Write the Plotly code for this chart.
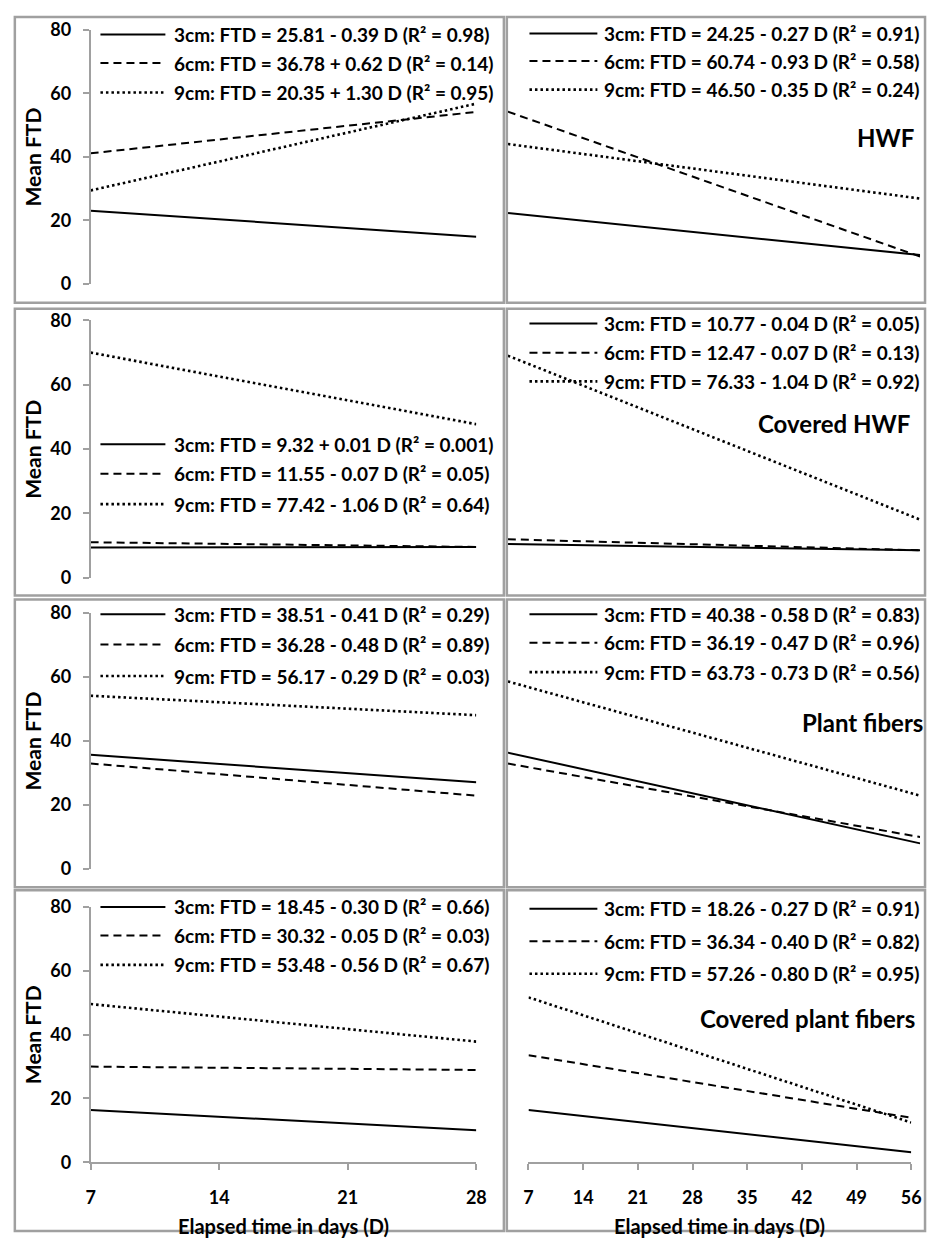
import plotly.graph_objects as go

W, H = 937, 1244

# ---------------- data ----------------
panel_names = ["HWF", "Covered HWF", "Plant fibers", "Covered plant fibers"]
sizes = ["3cm", "6cm", "9cm"]
x_left = [7, 28]
x_right = [7, 56]
left_x_ticks = [7, 14, 21, 28]
right_x_ticks = [7, 14, 21, 28, 35, 42, 49, 56]
y_ticks = [0, 20, 40, 60, 80]

# FTD at first and last day of each regression line (rows = panels, cols = 3/6/9 cm)
left_start = [[23.08, 41.12, 29.45], [9.39, 11.06, 70.00], [35.64, 32.92, 54.14], [16.35, 29.97, 49.56]]
left_end = [[14.89, 54.14, 56.75], [9.60, 9.59, 47.74], [27.03, 22.84, 48.05], [10.05, 28.92, 37.80]]
right_start = [[22.36, 54.23, 44.05], [10.49, 11.98, 69.05], [36.32, 32.90, 58.62], [16.37, 33.54, 51.66]]
right_end = [[9.13, 8.66, 26.90], [8.53, 8.55, 18.09], [7.90, 9.87, 22.85], [3.14, 13.94, 12.46]]

left_labels = [
    ["3cm: FTD = 25.81 - 0.39 D (R² = 0.98)", "6cm: FTD = 36.78 + 0.62 D (R² = 0.14)", "9cm: FTD = 20.35 + 1.30 D (R² = 0.95)"],
    ["3cm: FTD = 9.32 + 0.01 D (R² = 0.001)", "6cm: FTD = 11.55 - 0.07 D (R² = 0.05)", "9cm: FTD = 77.42 - 1.06 D (R² = 0.64)"],
    ["3cm: FTD = 38.51 - 0.41 D (R² = 0.29)", "6cm: FTD = 36.28 - 0.48 D (R² = 0.89)", "9cm: FTD = 56.17 - 0.29 D (R² = 0.03)"],
    ["3cm: FTD = 18.45 - 0.30 D (R² = 0.66)", "6cm: FTD = 30.32 - 0.05 D (R² = 0.03)", "9cm: FTD = 53.48 - 0.56 D (R² = 0.67)"],
]
right_labels = [
    ["3cm: FTD = 24.25 - 0.27 D (R² = 0.91)", "6cm: FTD = 60.74 - 0.93 D (R² = 0.58)", "9cm: FTD = 46.50 - 0.35 D (R² = 0.24)"],
    ["3cm: FTD = 10.77 - 0.04 D (R² = 0.05)", "6cm: FTD = 12.47 - 0.07 D (R² = 0.13)", "9cm: FTD = 76.33 - 1.04 D (R² = 0.92)"],
    ["3cm: FTD = 40.38 - 0.58 D (R² = 0.83)", "6cm: FTD = 36.19 - 0.47 D (R² = 0.96)", "9cm: FTD = 63.73 - 0.73 D (R² = 0.56)"],
    ["3cm: FTD = 18.26 - 0.27 D (R² = 0.91)", "6cm: FTD = 36.34 - 0.40 D (R² = 0.82)", "9cm: FTD = 57.26 - 0.80 D (R² = 0.95)"],
]

# ---------------- styling / layout (pixels) ----------------
FONT = "Lato"
dashes = ["solid", "8px,5px", "2.5px,3px"]
widths = [2, 2, 2.6]
GRAY = "#a0a0a0"
LEG_SIZE = 19

row_plot_y = [(18, 277), (314, 576), (612, 872), (911, 1171)]   # (y at 80, y at 0)
row_box_y = [(5, 296), (302, 594), (598, 891), (894, 1241)]
left_plot_x = (87, 479)
right_plot_x = [(511, 930), (511, 930), (511, 930), (532, 921)]
left_box_x = (10, 507)
right_box_x = (510, 935)

left_leg_y = [(23, 52, 82), (440, 470, 501), (613, 644, 676), (911, 940, 970)]
right_leg_y = [(22, 50, 79), (317, 347, 376), (613, 642, 672), (913, 946, 979)]
panel_label_pos = [(926, 128), (922, 419), (935, 723), (927, 1025)]


def px(x):
    return x / W


def py(y):
    return 1 - y / H


fig = go.Figure()
layout = dict(
    width=W, height=H, margin=dict(l=0, r=0, t=0, b=0),
    paper_bgcolor="white", plot_bgcolor="rgba(0,0,0,0)",
    showlegend=False, font=dict(family=FONT, color="black"),
)
shapes, annotations = [], []

ax = 0
for r in range(4):
    for side in ("L", "R"):
        ax += 1
        xa = "xaxis" if ax == 1 else f"xaxis{ax}"
        ya = "yaxis" if ax == 1 else f"yaxis{ax}"
        xr = "x" if ax == 1 else f"x{ax}"
        yr = "y" if ax == 1 else f"y{ax}"
        x0, x1 = left_plot_x if side == "L" else right_plot_x[r]
        ytop, ybot = row_plot_y[r]
        xvals = x_left if side == "L" else x_right
        starts = left_start if side == "L" else right_start
        ends = left_end if side == "L" else right_end
        for k in range(3):
            fig.add_trace(go.Scatter(
                x=xvals, y=[starts[r][k], ends[r][k]], mode="lines",
                line=dict(color="black", width=widths[k], dash=dashes[k]),
                xaxis=xr, yaxis=yr, name=sizes[k], hoverinfo="skip"))
        bottom = (r == 3)
        layout[xa] = dict(
            domain=[px(x0), px(x1)], range=[xvals[0], xvals[-1]], anchor=yr,
            visible=bottom, showgrid=False, zeroline=False,
            showline=True, linecolor=GRAY, linewidth=1.5,
            ticks="outside", ticklen=6, tickcolor=GRAY, tickwidth=1.5,
            tickvals=left_x_ticks if side == "L" else right_x_ticks,
            tickfont=dict(size=18, family=FONT, weight="bold"),
            ticklabelstandoff=12,
        )
        layout[ya] = dict(
            domain=[py(ybot), py(ytop)], range=[0, 80], anchor=xr,
            visible=(side == "L"), showgrid=False, zeroline=False,
            showline=True, linecolor=GRAY, linewidth=1.5,
            ticks="outside", ticklen=6, tickcolor=GRAY, tickwidth=1.5,
            tickvals=y_ticks,
            tickfont=dict(size=18, family=FONT, weight="bold"),
            ticklabelstandoff=8,
        )

        # legend keys + equations
        labels = left_labels if side == "L" else right_labels
        legy = left_leg_y[r] if side == "L" else right_leg_y[r]
        kx0, kx1, tx = (97, 163, 170) if side == "L" else (533, 602, 607)
        for k in range(3):
            shapes.append(dict(type="line", xref="paper", yref="paper",
                               x0=px(kx0), x1=px(kx1), y0=py(legy[k]), y1=py(legy[k]),
                               line=dict(color="black", width=widths[k], dash=dashes[k])))
            annotations.append(dict(xref="paper", yref="paper", x=px(tx), y=py(legy[k]),
                                    xanchor="left", yanchor="middle", showarrow=False,
                                    text=labels[r][k],
                                    font=dict(size=LEG_SIZE, family=FONT, weight="bold", color="black")))

    # panel boxes
    for bx in (left_box_x, right_box_x):
        shapes.append(dict(type="rect", xref="paper", yref="paper",
                           x0=px(bx[0]), x1=px(bx[1]), y0=py(row_box_y[r][1]), y1=py(row_box_y[r][0]),
                           line=dict(color=GRAY, width=2.5), fillcolor="rgba(0,0,0,0)"))
    # y title
    ytop, ybot = row_plot_y[r]
    annotations.append(dict(xref="paper", yref="paper", x=px(28), y=py((ytop + ybot) / 2),
                            xanchor="center", yanchor="middle", showarrow=False, textangle=-90,
                            text="Mean FTD", font=dict(size=21, family=FONT, weight="bold")))
    # panel label
    lx, ly = panel_label_pos[r]
    annotations.append(dict(xref="paper", yref="paper", x=px(lx), y=py(ly),
                            xanchor="right", yanchor="middle", showarrow=False,
                            text=panel_names[r],
                            font=dict(size=24, family=FONT, weight="bold")))

# x titles
for cx in ((left_plot_x[0] + left_plot_x[1]) / 2, (right_plot_x[3][0] + right_plot_x[3][1]) / 2):
    annotations.append(dict(xref="paper", yref="paper", x=px(cx), y=py(1236),
                            xanchor="center", yanchor="middle", showarrow=False,
                            text="Elapsed time in days (D)",
                            font=dict(size=20, family=FONT, weight="bold")))

layout["shapes"] = shapes
layout["annotations"] = annotations
fig.update_layout(**layout)

fig.write_html("out.html", config={"displayModeBar": False},
               post_script="document.body.style.margin='0';document.body.style.overflow='hidden';")
